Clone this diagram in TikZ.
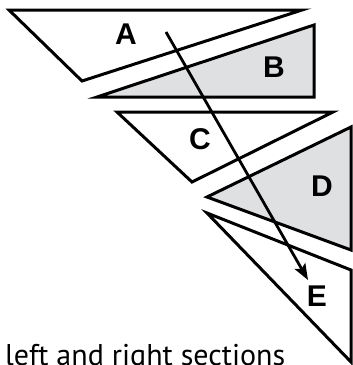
\documentclass[tikz,border=0pt]{standalone}
\usepackage{fontspec}
\setmainfont{Liberation Sans}
\newfontfamily\capfont{PT Sans}
\usetikzlibrary{arrows.meta}
\definecolor{sectgray}{HTML}{DFE0E2}

\begin{document}
\begin{tikzpicture}[x=1pt,y=-1pt,
  tri/.style={draw=black,line width=3pt,line join=miter},
  filled/.style={tri,fill=sectgray},
  lbl/.style={font=\fontsize{30}{30}\selectfont\bfseries,inner sep=0pt},
  ar/.style={-{Stealth[length=16pt,width=12pt,inset=3pt]},line width=2.8pt},
]
\useasboundingbox (0,0) rectangle (353,365);
% ============ sections ============
\draw[tri]    (9,10) -- (302,10) -- (82,81) -- cycle;
\draw[filled] (314,25) -- (314,97) -- (97,97) -- cycle;
\draw[tri]    (117,112) -- (333,112) -- (192,182) -- cycle;
\draw[filled] (351,127) -- (351,250) -- (207,197) -- cycle;
\draw[tri]    (207,213) -- (351,270) -- (351,362) -- cycle;
% ============ labels ============
\node[lbl] (la) at (126,34)  {A};
\node[lbl] (lb) at (274,67)  {B};
\node[lbl] (lc) at (200,139) {C};
\node[lbl] (ld) at (322,186) {D};
\node[lbl] (le) at (317,296) {E};
% ============ path through ============
\coordinate (start) at (166,32);
\coordinate (stop)  at (308,280);
\draw[ar] (start) -- (stop);
\node[font=\capfont\fontsize{30}{30}\selectfont,inner sep=0pt,anchor=base west]
  (cap) at (5,365) {left and right sections};
\end{tikzpicture}
\end{document}
